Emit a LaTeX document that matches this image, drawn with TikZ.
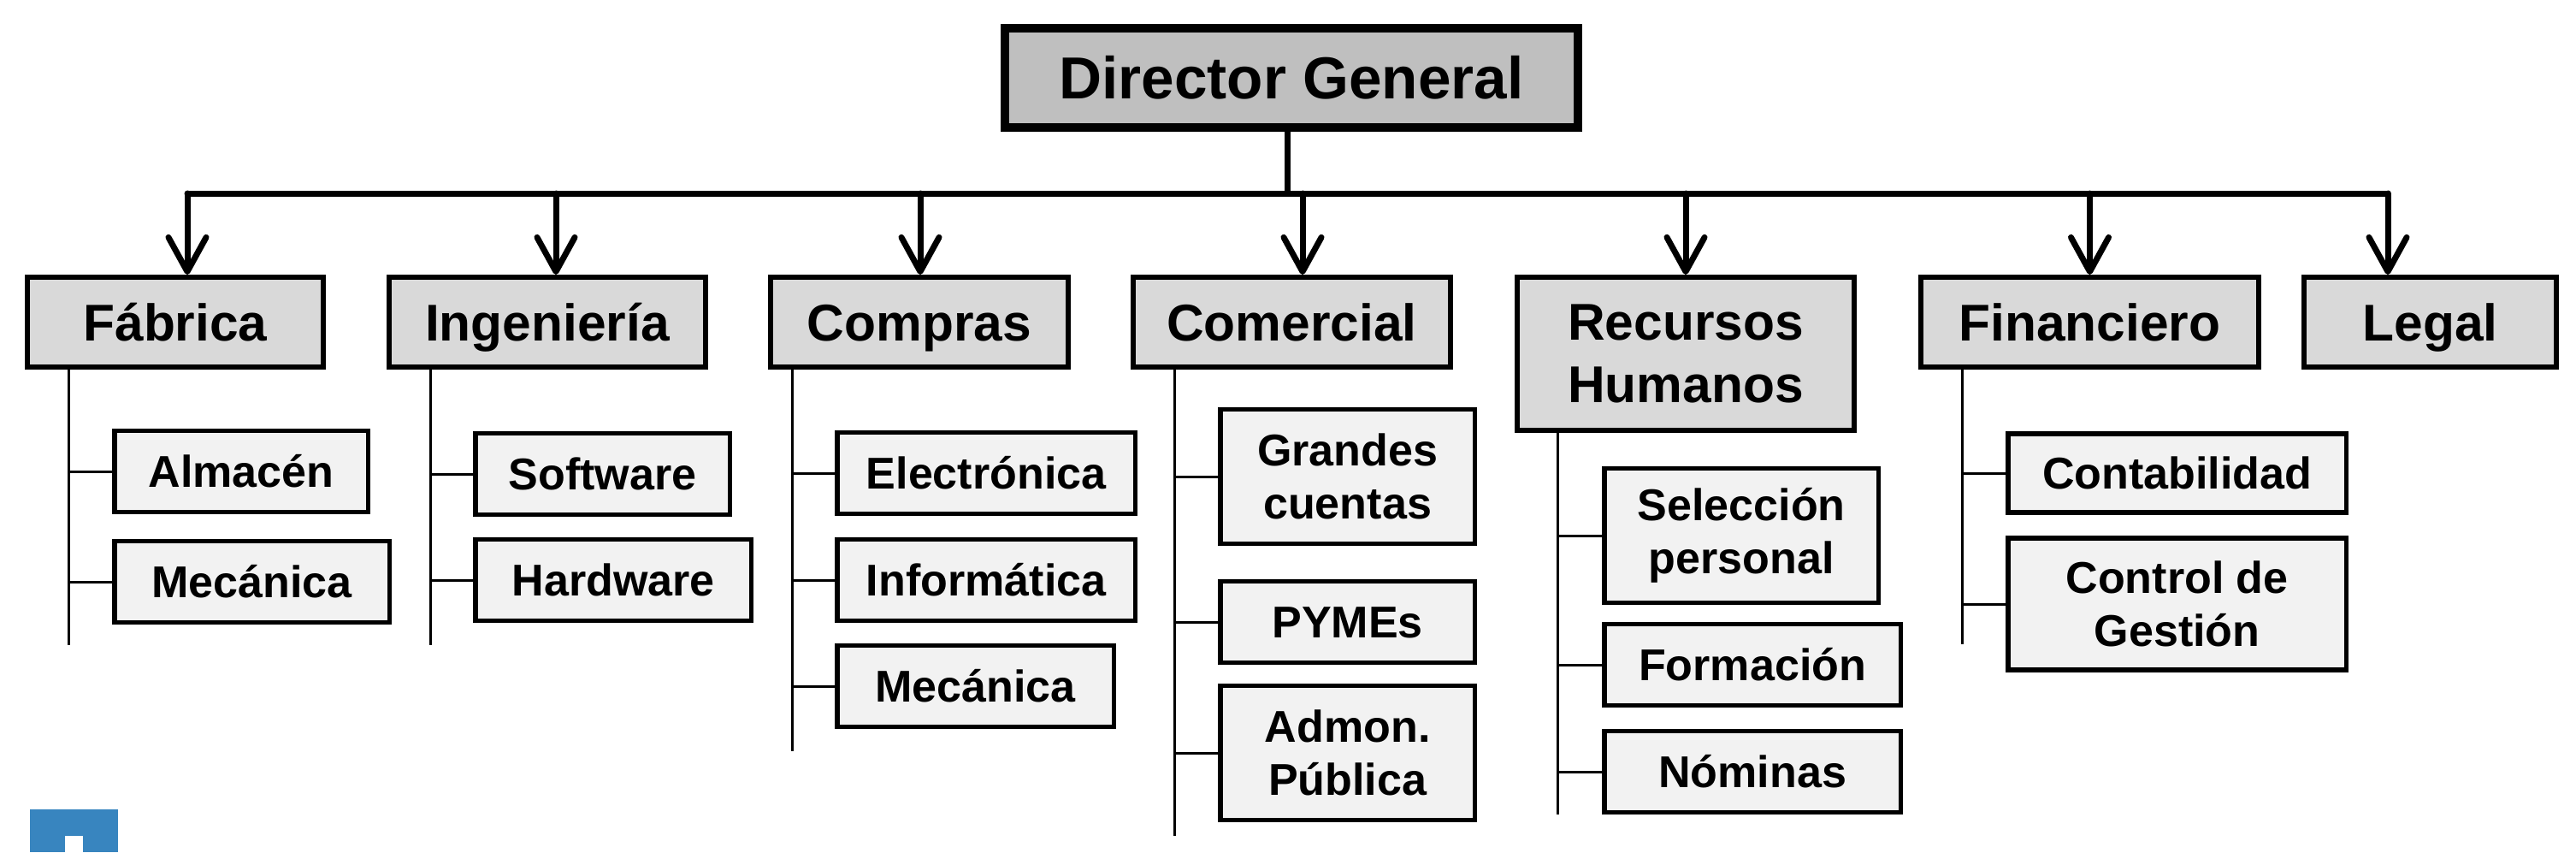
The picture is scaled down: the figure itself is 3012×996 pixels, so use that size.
\documentclass[tikz,border=0pt]{standalone}
\usepackage{fontspec}
\setmainfont{Liberation Sans}
\usepackage{tikz}
\usetikzlibrary{arrows.meta, positioning, calc}
\definecolor{dirgray}{RGB}{191, 191, 191}
\definecolor{deptgray}{RGB}{217, 217, 217}
\definecolor{unitgray}{RGB}{242, 242, 242}
\definecolor{logoblue}{RGB}{56, 133, 191}

\begin{document}
\begin{tikzpicture}[x=0.01cm, y=-0.01cm,
    dir/.style={draw, line width=0.1cm, fill=dirgray, inner sep=0pt,
          text height=14.1pt, text depth=0pt,
          minimum width=6.7cm, minimum height=1.16cm,
          font=\fontsize{19.7}{23}\selectfont\bfseries},
    dept/.style={draw, line width=0.06cm, fill=deptgray, inner sep=0pt,
          text height=12.3pt, text depth=0pt,
          minimum height=1.05cm, align=center,
          font=\fontsize{17.2}{21}\selectfont\bfseries},
    unit/.style={draw, line width=0.055cm, fill=unitgray, inner sep=0pt,
          text height=10.6pt, text depth=0pt,
          minimum height=0.945cm, align=center, anchor=west,
          font=\fontsize{14.8}{17.6}\selectfont\bfseries},
    twoline/.style={text height={}, text depth={}},
    tall/.style={twoline, minimum height=1.565cm},
    link/.style={line width=0.07cm, line cap=round, line join=round},
    arr/.style={link, -{Straight Barb[length=0.4cm, width=0.44cm, round]}},
    branch/.style={line width=0.03cm}]
    \useasboundingbox (0,0) rectangle (3012,996);

    \node[dir] (dg) at (1510,91) {Director General};

    \node[dept, minimum width=3.46cm] (fab) at (205,376.5) {Fábrica};
    \node[dept, minimum width=3.70cm] (ing) at (640,376.5) {Ingeniería};
    \node[dept, minimum width=3.48cm] (com) at (1075,376.5) {Compras};
    \node[dept, minimum width=3.71cm] (cml) at (1510.5,376.5) {Comercial};
    \node[dept, twoline, minimum width=3.94cm, minimum height=1.79cm] (rrhh) at (1971,413.5) {Recursos\\Humanos};
    \node[dept, minimum width=3.95cm] (fin) at (2443.5,376.5) {Financiero};
    \node[dept, minimum width=2.95cm] (leg) at (2841.5,376.5) {Legal};

    \node[unit, minimum width=2.965cm] (alm) at (131,551) {Almacén};
    \node[unit, minimum width=3.215cm] (mecf) at (131,680) {Mecánica};
    \node[unit, minimum width=2.975cm] (soft) at (553,554) {Software};
    \node[unit, minimum width=3.225cm] (hard) at (553,678) {Hardware};
    \node[unit, minimum width=3.485cm] (elec) at (976,553) {Electrónica};
    \node[unit, minimum width=3.485cm] (info) at (976,678) {Informática};
    \node[unit, minimum width=3.235cm] (mecc) at (976,802) {Mecánica};
    \node[unit, tall, minimum width=2.975cm] (gcu) at (1424,557) {Grandes\\cuentas};
    \node[unit, minimum width=2.975cm] (pym) at (1424,727) {PYMEs};
    \node[unit, tall, minimum width=2.975cm] (adm) at (1424,880) {Admon.\\Pública};
    \node[unit, tall, minimum width=3.205cm] (sel) at (1873,626) {Selección\\personal};
    \node[unit, minimum width=3.465cm] (frm) at (1873,777) {Formación};
    \node[unit, minimum width=3.465cm] (nom) at (1873,902) {Nóminas};
    \node[unit, minimum width=3.955cm, minimum height=0.915cm] (cont) at (2345,553) {Contabilidad};
    \node[unit, twoline, minimum width=3.955cm, minimum height=1.535cm] (ctrl) at (2345,706) {Control de\\Gestión};

    \coordinate (bus) at (1505,226);
    \coordinate (fabend) at (80,754);
    \coordinate (ingend) at (503,754);
    \coordinate (comend) at (926,878);
    \coordinate (cmlend) at (1373,977);
    \coordinate (rrhhend) at (1821,952);
    \coordinate (finend) at (2294,753);

    \draw[link] (dg.south -| bus) -- (bus);
    \draw[link] ([xshift=0.14cm]fab.north |- bus) -- ([xshift=-0.495cm]leg.north |- bus);
    \foreach \d/\s in {fab/0.14, ing/0.10, com/0.01, cml/0.125, rrhh/0, fin/0, leg/-0.495}
        \draw[arr] ([xshift=\s cm]\d.north |- bus) -- ([xshift=\s cm]\d.north);

    \foreach \d/\e in {fab/fabend, ing/ingend, com/comend, cml/cmlend, rrhh/rrhhend, fin/finend}
        \draw[branch] (\d.south -| \e) -- (\e);
    \foreach \u/\e in {alm/fabend, mecf/fabend, soft/ingend, hard/ingend,
                       elec/comend, info/comend, mecc/comend,
                       gcu/cmlend, pym/cmlend, adm/cmlend,
                       sel/rrhhend, frm/rrhhend, nom/rrhhend,
                       cont/finend, ctrl/finend}
        \draw[branch] (\u.west -| \e) -- (\u.west);

    \fill[logoblue] (35,946) rectangle (138,996);
    \fill[white] (76,977) rectangle (97,996);
\end{tikzpicture}
\end{document}
